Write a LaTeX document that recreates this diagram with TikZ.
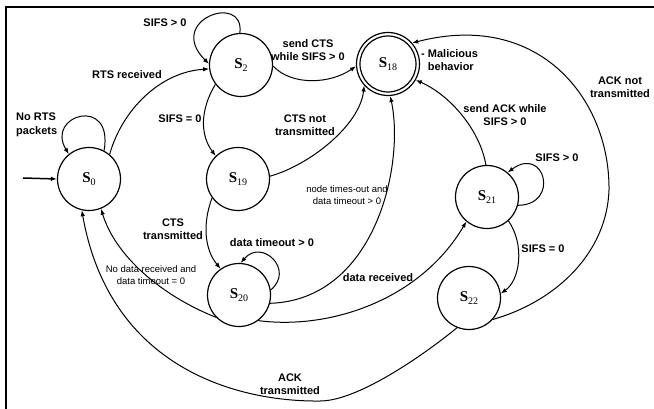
\documentclass[tikz,border=0pt]{standalone}
\usepackage{fontspec}
\setmainfont{Liberation Sans}
\newfontfamily\serifS{Liberation Serif}
\usetikzlibrary{arrows.meta}
\newcommand\stname[1]{{\serifS\fontsize{15}{15}\selectfont\textbf{S}\raisebox{-2.5pt}{\fontsize{10}{10}\selectfont #1}}}
\begin{document}
\begin{tikzpicture}[x=1pt,y=-1pt,
  state/.style={circle,draw,line width=1.2pt,minimum size=63pt,inner sep=0pt},
  edge/.style={line width=1pt,-{Latex[length=6pt,width=4.5pt]}},
  lbl/.style={font=\fontsize{11}{13.5}\selectfont\bfseries,align=center,inner sep=0pt},
  small/.style={font=\fontsize{9.5}{12}\selectfont,align=center,inner sep=0pt}]
\useasboundingbox (0,0) rectangle (654,409);
\draw[line width=2pt] (5.8,409) -- (5.8,7) -- (654,7);

\node[state] (S0) at (89,179) {\stname{0}};
\node[state] (S2) at (241,65) {\stname{2}};
\node[state] (S19) at (238,179) {\stname{19}};
\node[state] (S18) at (388,64) {\stname{18}};
\node[state] (S21) at (487,197) {\stname{21}};
\node[state] (S20) at (239,295) {\stname{20}};
\node[state] (S22) at (469,298) {\stname{22}};
\draw[line width=1.2pt] (S18.center) circle (28pt);

\coordinate (init) at (23,178);
\draw[edge,line width=1.5pt] (init) -- (S0.west);
\draw[edge] (S0.62) .. controls (114,95) and (45,115) .. (S0.129);
\draw[edge] (S0.50) .. controls (122,110) and (160,72) .. (S2.187);
\draw[edge] (S2.92) .. controls (245,-8) and (165,20) .. (S2.178);
\draw[edge] (S2.217) .. controls (200,110) and (200,135) .. (S19.134);
\draw[edge] (S2.-2) .. controls (292,86) and (330,84) .. (S18.184);
\draw[edge] (S19.5) .. controls (310,165) and (360,125) .. (S18.222);
\draw[edge] (S19.216) .. controls (202,225) and (205,250) .. (S20.125);
\draw[edge] (S20.9) .. controls (295,270) and (262,238) .. (S20.87);
\draw[edge] (S20.-15) .. controls (375,300) and (405,165) .. (S18.-86);
\draw[edge] (S20.-53) .. controls (330,330) and (420,300) .. (S21.230);
\draw[edge] (S20.224) .. controls (160,295) and (115,255) .. (S0.-68);
\draw[edge] (S21.92) .. controls (480,130) and (450,95) .. (S18.-30);
\draw[edge] (S21.-15) .. controls (560,205) and (545,145) .. (S21.50);
\draw[edge] (S21.-48) .. controls (525,245) and (520,280) .. (S22.8);
\draw[edge] (S22.-42) .. controls (560,300) and (607,250) .. (609,190) .. controls (610,100) and (540,10) .. (S18.41);
\draw[edge] (S22.-112) .. controls (430,350) and (360,401) .. (320,401) .. controls (240,402) and (110,370) .. (S0.-103);

\node[lbl,anchor=west,align=left] (l1) at (16,125) {No RTS\\packets};
\node[lbl] (l2) at (127,75) {RTS received};
\node[lbl] (l3) at (165,23) {SIFS > 0};
\node[lbl] (l4) at (180,119) {SIFS = 0};
\node[lbl] (l5) at (308,50) {send CTS\\while SIFS > 0};
\node[lbl,anchor=west,align=left] (l6) at (421,60) {- Malicious\\\hphantom{- }behavior};
\node[lbl] (l7) at (305,125) {CTS not\\transmitted};
\node[small] (l8) at (347,195) {node times-out and\\data timeout > 0};
\node[lbl] (l9) at (173,229) {CTS\\transmitted};
\node[lbl] (l10) at (272,243) {data timeout > 0};
\node[small] (l11) at (151,275) {No data received and\\data timeout = 0};
\node[lbl] (l12) at (378,278) {data received};
\node[lbl] (l13) at (543,249) {SIFS = 0};
\node[lbl] (l14) at (557,158) {SIFS > 0};
\node[lbl] (l15) at (505,115) {send ACK while\\SIFS > 0};
\node[lbl] (l16) at (620,87) {ACK not\\transmitted};
\node[lbl] (l17) at (290,384) {ACK\\transmitted};
\end{tikzpicture}
\end{document}
